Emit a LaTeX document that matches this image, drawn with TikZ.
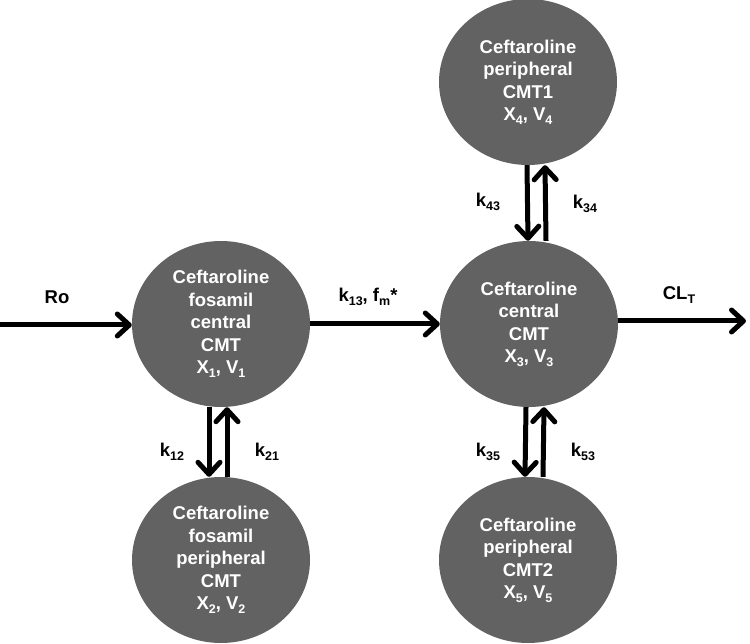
\documentclass[tikz,border=0pt]{standalone}
\usepackage{fontspec}
\setmainfont{Liberation Sans}
\usetikzlibrary{shapes.geometric,arrows.meta}
\newcommand{\lsub}[1]{\raisebox{-0.35ex}{\fontsize{12.5}{12.5}\selectfont #1}}
\definecolor{cmtgray}{RGB}{98,98,98}
\begin{document}
\begin{tikzpicture}[x=1pt,y=-1pt,
  cmt/.style={ellipse, fill=cmtgray, minimum width=178pt, minimum height=166pt, inner sep=0pt, text=white, font=\fontsize{18.5}{22.5}\selectfont\bfseries, align=center},
  lab/.style={font=\fontsize{18.5}{22}\selectfont\bfseries, inner sep=1pt},
  arr/.style={line width=5pt, -{Straight Barb[length=12pt,width=22pt,round]}}]
\useasboundingbox (0,0) rectangle (750,644);
\node[cmt] (c1) at (221,324) {Ceftaroline\\fosamil\\central\\CMT\\X\lsub{1}, V\lsub{1}};
\node[cmt] (c2) at (221,560) {Ceftaroline\\fosamil\\peripheral\\CMT\\X\lsub{2}, V\lsub{2}};
\node[cmt] (c3) at (529,324) {Ceftaroline\\central\\CMT\\X\lsub{3}, V\lsub{3}};
\node[cmt] (c4) at (528,82) {Ceftaroline\\peripheral\\CMT1\\X\lsub{4}, V\lsub{4}};
\node[cmt] (c5) at (528,560) {Ceftaroline\\peripheral\\CMT2\\X\lsub{5}, V\lsub{5}};
\coordinate (rostart) at (0,325);
\coordinate (clend) at (746,321);
\draw[arr] (rostart) -- (rostart -| c1.west);
\draw[arr] (c1.east) -- (c3.west);
\draw[arr] (c3.east |- clend) -- (clend);
\draw[arr] ([xshift=-12pt]c1.south) -- ([xshift=-12pt]c2.north);
\draw[arr] ([xshift=6pt]c2.north) -- ([xshift=6pt]c1.south);
\draw[arr] ([xshift=-1pt]c4.south) -- ([xshift=-1pt]c3.north);
\draw[arr] ([xshift=17pt]c3.north) -- ([xshift=17pt]c4.south);
\draw[arr] ([xshift=-3pt]c3.south) -- ([xshift=-3pt]c5.north);
\draw[arr] ([xshift=15pt]c5.north) -- ([xshift=15pt]c3.south);
\node[lab] (lro) at (57,297) {Ro};
\node[lab] (l13) at (368,297) {k\lsub{13}, f\lsub{m}*};
\node[lab] (lcl) at (679,295) {CL\lsub{T}};
\node[lab] (l43) at (488,202) {k\lsub{43}};
\node[lab] (l34) at (585,204) {k\lsub{34}};
\node[lab] (l12) at (172,452) {k\lsub{12}};
\node[lab] (l21) at (267,452) {k\lsub{21}};
\node[lab] (l35) at (488,452) {k\lsub{35}};
\node[lab] (l53) at (583,452) {k\lsub{53}};
\end{tikzpicture}
\end{document}
